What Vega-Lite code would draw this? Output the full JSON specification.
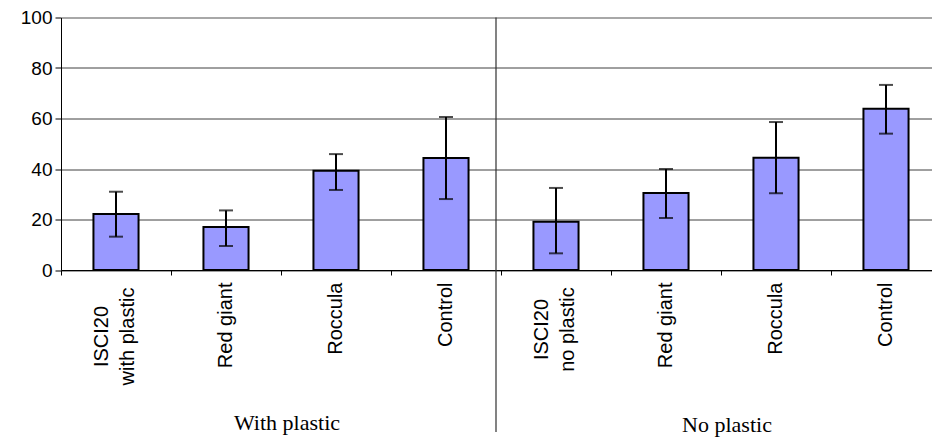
{
  "$schema": "https://vega.github.io/schema/vega-lite/v6.json",
  "width": 871,
  "height": 252.5,
  "autosize": {"type": "none"},
  "padding": {"left": 61, "top": 17.5, "right": 0, "bottom": 170},
  "background": "white",
  "config": {"view": {"stroke": null}},
  "datasets": {
    "bars": [
      {"cat": "ISCI20|with plastic", "v": 22.2, "lo": 13.2, "hi": 31.0},
      {"cat": "Red giant", "v": 17.0, "lo": 9.5, "hi": 23.6},
      {"cat": "Roccula", "v": 39.3, "lo": 31.7, "hi": 45.9},
      {"cat": "Control", "v": 44.4, "lo": 28.1, "hi": 60.6},
      {"cat": "ISCI20|no plastic", "v": 19.1, "lo": 6.6, "hi": 32.5},
      {"cat": "Red giant ", "v": 30.5, "lo": 20.6, "hi": 40.0},
      {"cat": "Roccula ", "v": 44.5, "lo": 30.4, "hi": 58.6},
      {"cat": "Control ", "v": 63.9, "lo": 54.0, "hi": 73.3}
    ],
    "groups": [
      {"cat": "Roccula", "name": "With plastic", "pos": -60.6},
      {"cat": "Roccula ", "name": "No plastic", "pos": -61.4}
    ],
    "divider": [
      {"cat": "ISCI20|no plastic", "top": 100, "bottom": -64.2}
    ]
  },
  "layer": [
    {
      "data": {"name": "bars"},
      "mark": {"type": "bar", "fill": "#9999ff", "stroke": "black", "strokeWidth": 2, "width": {"band": 0.41}},
      "encoding": {
        "x": {
          "field": "cat", "type": "nominal",
          "scale": {"domain": ["ISCI20|with plastic", "Red giant", "Roccula", "Control", "ISCI20|no plastic", "Red giant ", "Roccula ", "Control "], "range": [0, 880], "paddingInner": 0, "paddingOuter": 0},
          "axis": {
            "orient": "bottom", "title": null, "labelAngle": -90, "labelFont": "Liberation Sans", "labelFontSize": 20,
            "labelColor": "black", "ticks": false, "domain": false,
            "labelAlign": {"condition": {"test": "indexof(datum.label, '|') >= 0", "value": "center"}, "value": "right"},
            "labelPadding": {"condition": [
              {"test": "indexof(datum.label, 'with') >= 0", "value": 66},
              {"test": "indexof(datum.label, '|') >= 0", "value": 59}
            ], "value": 12},
            "labelOffset": {"condition": {"test": "indexof(datum.label, '|') >= 0", "value": -14}, "value": 0},
            "labelLineHeight": 26, "labelExpr": "split(trim(datum.label), '|')",
            "labelLimit": 0, "labelOverlap": false, "labelBound": false
          }
        },
        "y": {
          "field": "v", "type": "quantitative",
          "scale": {"domain": [0, 100], "nice": false, "zero": false},
          "axis": {
            "title": null, "values": [0, 20, 40, 60, 80, 100], "labelFont": "Liberation Sans", "labelFontSize": 19,
            "labelColor": "black", "labelPadding": 3, "tickSize": 6, "tickColor": "black", "tickWidth": 1,
            "domainColor": "black", "domainWidth": 1, "grid": true,
            "gridColor": {"condition": {"test": "datum.value === 100", "value": "#a8a8a8"}, "value": "#404040"},
            "gridWidth": {"condition": {"test": "datum.value === 100", "value": 2}, "value": 1}
          }
        }
      }
    },
    {
      "data": {"name": "bars"},
      "mark": {"type": "rule", "color": "black", "strokeWidth": 2},
      "encoding": {
        "x": {"field": "cat", "type": "nominal", "axis": null},
        "y": {"field": "lo", "type": "quantitative", "scale": {"domain": [0, 100], "nice": false, "zero": false}, "title": null},
        "y2": {"field": "hi"}
      }
    },
    {
      "data": {"name": "bars"},
      "mark": {"type": "tick", "color": "black", "size": 14, "thickness": 2},
      "encoding": {
        "x": {"field": "cat", "type": "nominal", "axis": null},
        "y": {"field": "lo", "type": "quantitative", "scale": {"domain": [0, 100], "nice": false, "zero": false}, "title": null}
      }
    },
    {
      "data": {"name": "bars"},
      "mark": {"type": "tick", "color": "black", "size": 14, "thickness": 2},
      "encoding": {
        "x": {"field": "cat", "type": "nominal", "axis": null},
        "y": {"field": "hi", "type": "quantitative", "scale": {"domain": [0, 100], "nice": false, "zero": false}, "title": null}
      }
    },
    {
      "data": {"name": "divider"},
      "mark": {"type": "rule", "color": "#303030", "strokeWidth": 1.2, "xOffset": -5},
      "encoding": {
        "x": {
          "field": "cat", "type": "nominal", "bandPosition": 0,
          "axis": {"orient": "bottom", "title": null, "labels": false, "ticks": true, "bandPosition": 0, "tickSize": 5, "tickColor": "black", "tickWidth": 1, "domain": true, "domainColor": "black", "domainWidth": 1}
        },
        "y": {"field": "top", "type": "quantitative", "scale": {"domain": [0, 100], "nice": false, "zero": false}, "title": null},
        "y2": {"field": "bottom"}
      }
    },
    {
      "data": {"name": "groups"},
      "mark": {"type": "text", "font": "Liberation Serif", "fontSize": 22, "color": "black", "baseline": "middle", "align": "center", "dx": 6},
      "encoding": {
        "x": {"field": "cat", "type": "nominal", "bandPosition": 0, "axis": null},
        "y": {"field": "pos", "type": "quantitative", "scale": {"domain": [0, 100], "nice": false, "zero": false}, "title": null},
        "text": {"field": "name"}
      }
    }
  ],
  "resolve": {"axis": {"x": "independent"}}
}
